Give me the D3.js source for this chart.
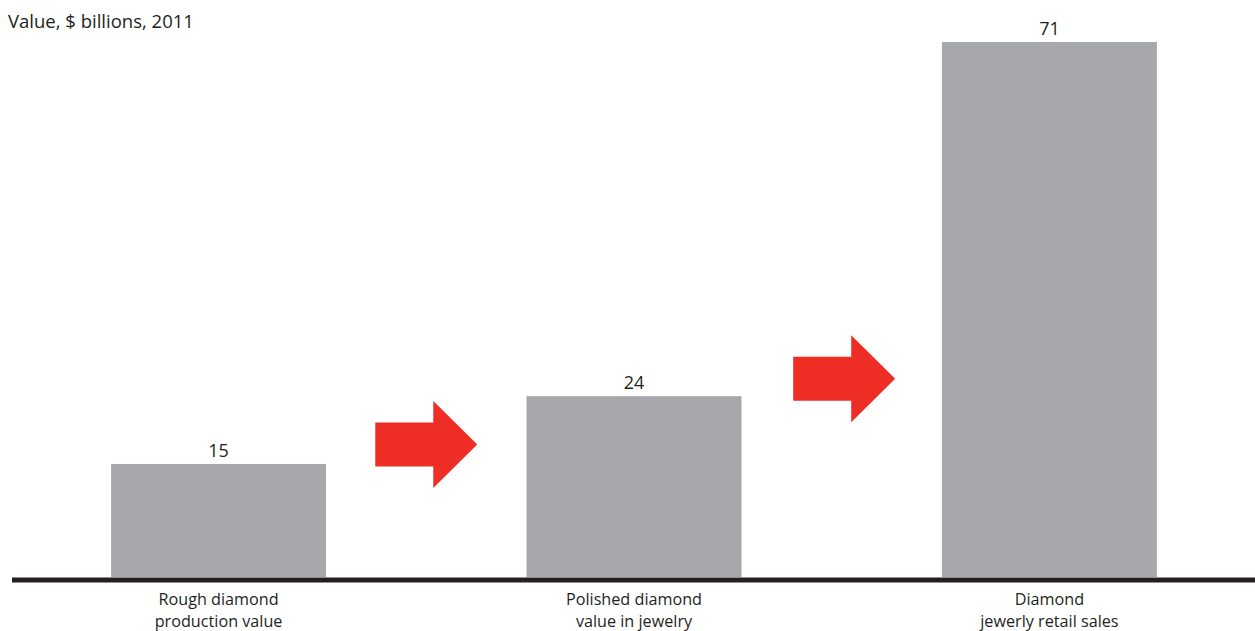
<!DOCTYPE html>
<html>
<head>
<meta charset="utf-8">
<script src="https://cdn.jsdelivr.net/npm/d3@7"></script>
<style>
  html, body { margin: 0; padding: 0; background: #fff; }
  svg { display: block; }
  text { font-family: "Open Sans", "Noto Sans", sans-serif; fill: #231f20; }
</style>
</head>
<body>
<svg id="chart" width="1255" height="631"></svg>
<script>
const title = "Value, $ billions, 2011";
const categories = [
  ["Rough diamond", "production value"],
  ["Polished diamond", "value in jewelry"],
  ["Diamond", "jewerly retail sales"]
];
const values = [15, 24, 71];
// arrow vertical centres (in value units) between consecutive bars
const arrowLevels = [17.6, 26.3];

const W = 1255, H = 631;
const svg = d3.select("#chart");

const keys = categories.map(c => c.join(" "));
const x = d3.scaleBand().domain(keys).range([28, 1240]).paddingInner(0.4825).paddingOuter(0.2);
const y = d3.scaleLinear().domain([0, 71]).range([577, 42]);

// bars
svg.append("g").selectAll("rect").data(values).join("rect")
  .attr("x", (d, i) => x(keys[i]))
  .attr("y", d => y(d))
  .attr("width", x.bandwidth())
  .attr("height", d => y(0) - y(d))
  .attr("fill", "#a7a8ac");

// value labels
svg.append("g").selectAll("text").data(values).join("text")
  .attr("x", (d, i) => x(keys[i]) + x.bandwidth() / 2)
  .attr("y", d => y(d) - 7)
  .attr("text-anchor", "middle")
  .style("font-size", "18px")
  .text(d => d);

// baseline axis
svg.append("line")
  .attr("x1", 12).attr("x2", W)
  .attr("y1", y(0) + 3).attr("y2", y(0) + 3)
  .attr("stroke", "#231f20").attr("stroke-width", 5);

// category labels (two lines each)
const labG = svg.append("g").selectAll("g").data(categories).join("g")
  .attr("transform", (d, i) => `translate(${x(keys[i]) + x.bandwidth() / 2},0)`);
labG.selectAll("text").data(d => d).join("text")
  .attr("x", 0)
  .attr("y", (d, i) => 605 + i * 22)
  .attr("text-anchor", "middle")
  .style("font-size", "16.2px")
  .text(d => d);

// arrows
const arrow = (cx, cy) => {
  const bw = 58, bh = 44, hw = 44, hh = 87;
  const x0 = cx - (bw + hw) / 2, xb = x0 + bw, xt = xb + hw;
  return [
    [x0, cy - bh / 2], [xb, cy - bh / 2], [xb, cy - hh / 2], [xt, cy],
    [xb, cy + hh / 2], [xb, cy + bh / 2], [x0, cy + bh / 2]
  ];
};
const arrowShift = [0, 2.5];
svg.append("g").selectAll("path").data(arrowLevels).join("path")
  .attr("d", (d, i) => {
    const cx = (x(keys[i]) + x.bandwidth() + x(keys[i + 1])) / 2 + arrowShift[i];
    return d3.line()(arrow(cx, y(d))) + "Z";
  })
  .attr("fill", "#ee2e24");

// title
svg.append("text")
  .attr("x", 8).attr("y", 28)
  .style("font-size", "18.5px")
  .text(title);
</script>
</body>
</html>
